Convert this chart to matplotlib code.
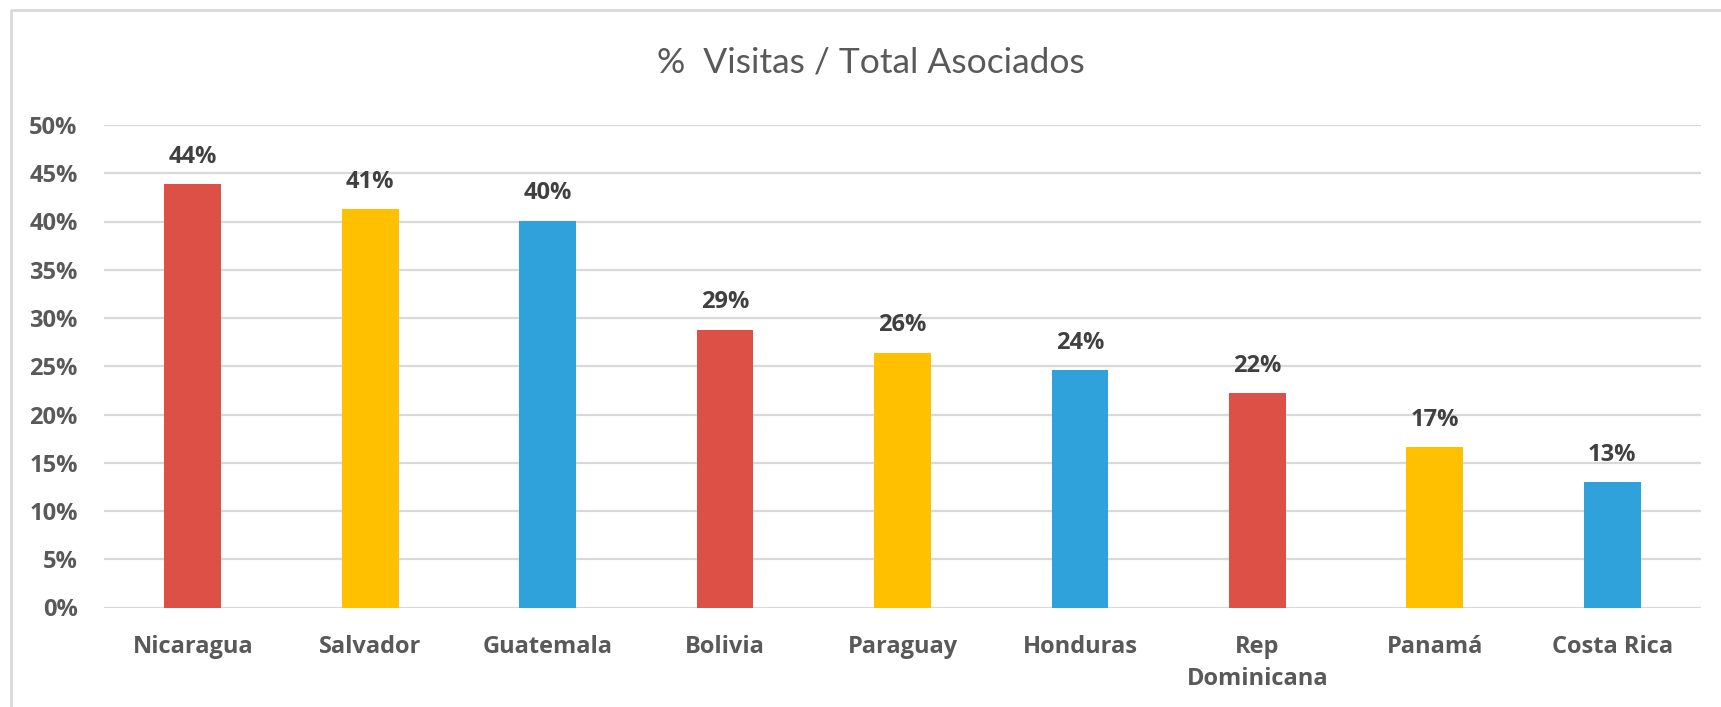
import matplotlib
matplotlib.use("Agg")
import matplotlib.pyplot as plt
from matplotlib.lines import Line2D
from matplotlib.ticker import FuncFormatter

paises = ["Nicaragua", "Salvador", "Guatemala", "Bolivia", "Paraguay",
          "Honduras", "Rep\nDominicana", "Panamá", "Costa Rica"]
valores = [0.439, 0.413, 0.401, 0.288, 0.264, 0.246, 0.222, 0.166, 0.130]
etiquetas = ["44%", "41%", "40%", "29%", "26%", "24%", "22%", "17%", "13%"]
colores = ["#DC5046", "#FFC000", "#2FA1DB"] * 3

plt.rcParams["font.family"] = ["Open Sans", "DejaVu Sans"]

W, H = 1721, 707
fig = plt.figure(figsize=(W / 100, H / 100), dpi=100)
ax = fig.add_axes([104 / W, 1 - 607.5 / H, (1701 - 104) / W, (607.5 - 125) / H])

# chart border (only left and top edges are inside the picture)
fig.lines.append(Line2D([10.5 / W, 10.5 / W, 1], [0, 1 - 10 / H, 1 - 10 / H],
                        transform=fig.transFigure, color="#D9D9D9", linewidth=2))

x = range(len(paises))
bars = ax.bar(x, valores, width=0.32, color=colores, zorder=3)
for b, t in zip(bars, etiquetas):
    ax.annotate(t, (b.get_x() + b.get_width() / 2, b.get_height()),
                xytext=(0, 11), textcoords="offset points", ha="center", va="bottom",
                fontsize=17, fontweight="bold", color="#404040")

ax.set_xlim(-0.5, len(paises) - 0.5)
ax.set_ylim(0, 0.5)
ax.set_yticks([i * 0.05 for i in range(11)])
ax.yaxis.set_major_formatter(FuncFormatter(lambda v, p: f"{v*100:.0f}%"))
ax.set_xticks(list(x))
ax.set_xticklabels(paises, linespacing=1.42)
ax.tick_params(axis="both", length=0, labelsize=17, labelcolor="#595959")
ax.tick_params(axis="x", pad=20)
ax.tick_params(axis="y", pad=19)
for lab in ax.get_xticklabels() + ax.get_yticklabels():
    lab.set_fontweight("bold")

ax.grid(axis="y", color="#D9D9D9", linewidth=1.6, zorder=0)
for s in ax.spines.values():
    s.set_visible(False)

fig.text(871 / W, 1 - 63 / H, "%  Visitas / Total Asociados", ha="center", va="center",
         fontsize=25.5, color="#595959", family=["Lato", "DejaVu Sans"])

fig.savefig("out.png", dpi=100)
